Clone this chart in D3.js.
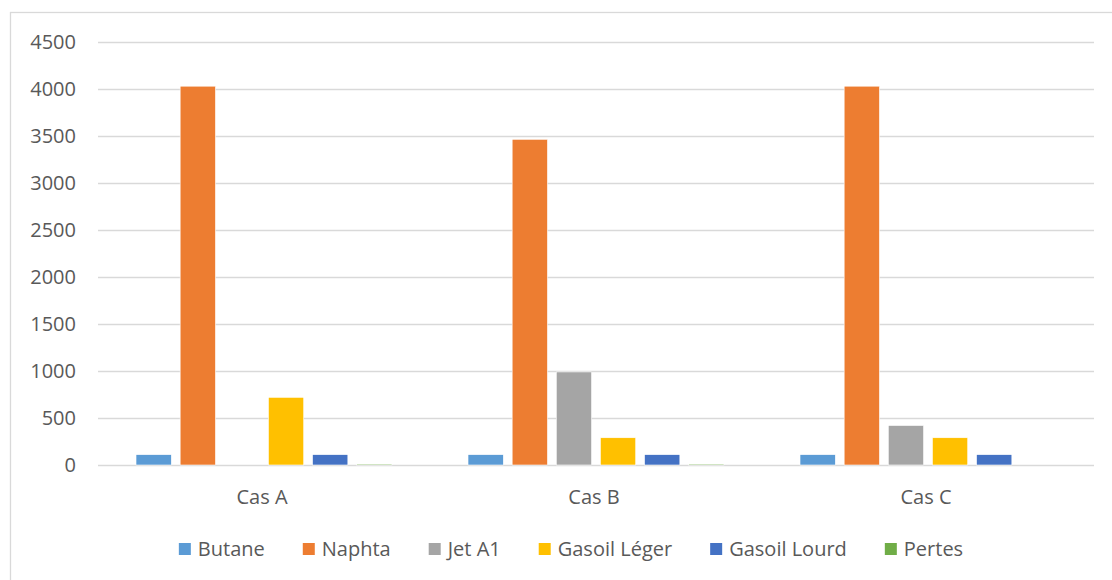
<!DOCTYPE html>
<html>
<head>
<meta charset="utf-8">
<script src="https://cdn.jsdelivr.net/npm/d3@7"></script>
<style>
  body { margin: 0; background: #fff; }
  svg { display: block; font-family: "Open Sans", sans-serif; }
</style>
</head>
<body>
<svg id="chart" width="1112" height="580"></svg>
<script>
// ---------------- data ----------------
var categories = ["Cas A", "Cas B", "Cas C"];
var seriesNames = ["Butane", "Naphta", "Jet A1", "Gasoil Léger", "Gasoil Lourd", "Pertes"];
var butane = [110, 110, 110];
var naphta = [4030, 3465, 4030];
var jetA1 = [0, 990, 420];
var gasoilLeger = [720, 290, 290];
var gasoilLourd = [110, 110, 110];
var pertes = [10, 10, 0];
var yTicks = [0, 500, 1000, 1500, 2000, 2500, 3000, 3500, 4000, 4500];
var colors = ["#5B9BD5", "#ED7D31", "#A5A5A5", "#FFC000", "#4472C4", "#70AD47"];

var seriesValues = [butane, naphta, jetA1, gasoilLeger, gasoilLourd, pertes];

// ---------------- layout ----------------
var svg = d3.select("#chart");
var plotLeft = 98, plotRight = 1094, plotTop = 42, plotBottom = 465;

// chart border (left + top edge only visible)
svg.append("rect")
    .attr("x", 10.5).attr("y", 12.5)
    .attr("width", 1140).attr("height", 600)
    .attr("fill", "none")
    .attr("stroke", "#d9d9d9")
    .attr("stroke-width", 1.3);

var y = d3.scaleLinear().domain([0, 4500]).range([plotBottom, plotTop]);

var x0 = d3.scaleBand()
    .domain(categories)
    .range([plotLeft, plotRight])
    .paddingInner(0.229)
    .paddingOuter(0.1145);

var x1 = d3.scaleBand()
    .domain(seriesNames)
    .range([0, x0.bandwidth()])
    .paddingInner(0.2);

var color = d3.scaleOrdinal().domain(seriesNames).range(colors);

// gridlines
svg.append("g")
    .selectAll("line")
    .data(yTicks)
    .enter().append("line")
    .attr("x1", plotLeft).attr("x2", plotRight)
    .attr("y1", function(d) { return Math.round(y(d)) + 0.5; })
    .attr("y2", function(d) { return Math.round(y(d)) + 0.5; })
    .attr("stroke", "#d9d9d9")
    .attr("stroke-width", function(d) { return d == 0 ? 1.6 : 1.3; });

// y axis labels
svg.append("g")
    .selectAll("text")
    .data(yTicks)
    .enter().append("text")
    .attr("x", 76)
    .attr("y", function(d) { return y(d); })
    .attr("dy", "0.35em")
    .attr("text-anchor", "end")
    .style("font-size", "20px")
    .style("fill", "#595959")
    .text(function(d) { return d; });

// bars
var table = categories.map(function(c, i) {
    return seriesNames.map(function(s, j) {
        return { cat: c, name: s, value: seriesValues[j][i] };
    });
});

var groups = svg.append("g")
    .selectAll("g")
    .data(table)
    .enter().append("g")
    .attr("transform", function(d, i) { return "translate(" + x0(categories[i]) + ",0)"; });

groups.selectAll("rect")
    .data(function(d) { return d.filter(function(e) { return e.value > 0; }); })
    .enter().append("rect")
    .attr("x", function(d) { return x1(d.name); })
    .attr("y", function(d) { return y(d.value); })
    .attr("width", x1.bandwidth())
    .attr("height", function(d) { return plotBottom - y(d.value); })
    .attr("fill", function(d) { return color(d.name); })
    .attr("stroke", "#ffffff")
    .attr("stroke-width", 0.6);

// category labels
svg.append("g")
    .selectAll("text")
    .data(categories)
    .enter().append("text")
    .attr("x", function(d) { return x0(d) + x0.bandwidth() / 2 - 2; })
    .attr("y", 504)
    .attr("text-anchor", "middle")
    .style("font-size", "20px")
    .style("fill", "#595959")
    .text(function(d) { return d; });

// ---------------- legend ----------------
var legend = svg.append("g");
var items = legend.selectAll("g")
    .data(seriesNames)
    .enter().append("g");

items.append("rect")
    .attr("x", 0).attr("y", -6)
    .attr("width", 12).attr("height", 12)
    .attr("fill", function(d) { return color(d); });

items.append("text")
    .attr("x", 19)
    .attr("y", 0)
    .attr("dy", "0.35em")
    .style("font-size", "20px")
    .style("fill", "#595959")
    .text(function(d) { return d; });

var gap = 38;
var pos = 0;
items.each(function(d) {
    var w = d3.select(this).select("text").node().getComputedTextLength();
    d3.select(this).attr("data-x", pos);
    pos += 19 + w + gap;
});
var total = pos - gap;
var startX = 571 - total / 2;
items.attr("transform", function() {
    return "translate(" + (startX + (+this.getAttribute("data-x"))) + ",549)";
});
</script>
</body>
</html>
